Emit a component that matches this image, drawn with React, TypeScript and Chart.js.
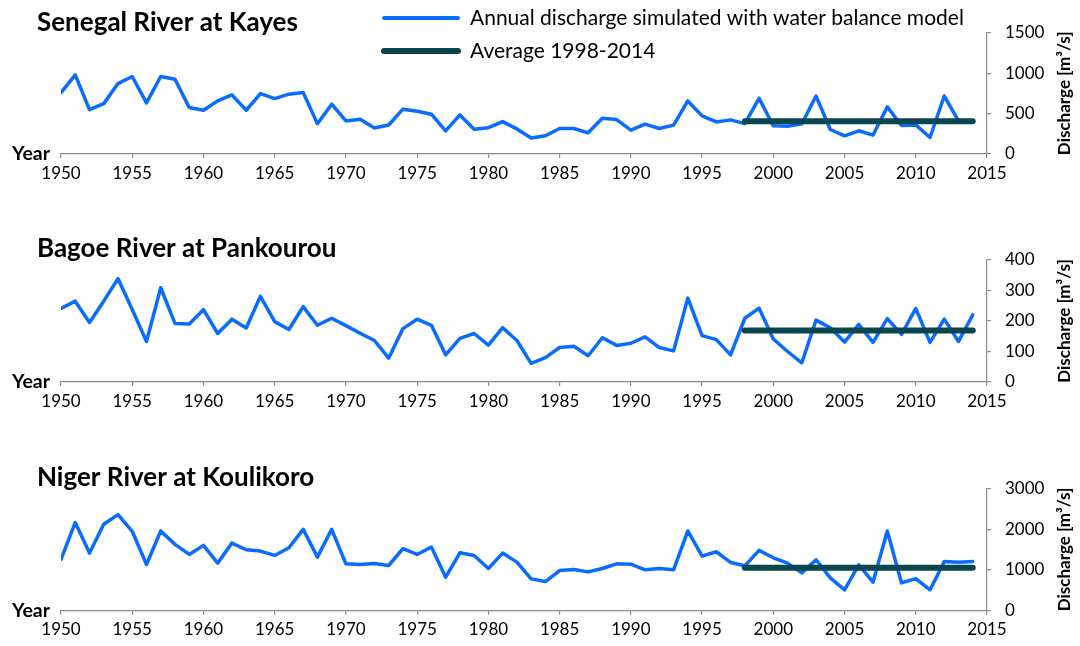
import { useEffect, useRef } from "react";
import { Chart, registerables } from "chart.js";

Chart.register(...registerables);

// ---------- data ----------
const years = [
  1950, 1951, 1952, 1953, 1954, 1955, 1956, 1957, 1958, 1959,
  1960, 1961, 1962, 1963, 1964, 1965, 1966, 1967, 1968, 1969,
  1970, 1971, 1972, 1973, 1974, 1975, 1976, 1977, 1978, 1979,
  1980, 1981, 1982, 1983, 1984, 1985, 1986, 1987, 1988, 1989,
  1990, 1991, 1992, 1993, 1994, 1995, 1996, 1997, 1998, 1999,
  2000, 2001, 2002, 2003, 2004, 2005, 2006, 2007, 2008, 2009,
  2010, 2011, 2012, 2013, 2014,
];

const senegalDischarge = [
  760, 979, 549, 623, 871, 958, 632, 958, 925, 574,
  541, 657, 731, 541, 747, 685, 740, 760, 375, 616,
  409, 430, 322, 359, 554, 529, 492, 285, 483, 306,
  326, 400, 310, 197, 225, 315, 315, 262, 443, 426,
  295, 369, 315, 357, 656, 471, 397, 422, 376, 689,
  348, 344, 373, 717, 303, 225, 287, 234, 582, 352,
  360, 204, 717, 410, 400,
];

const bagoeDischarge = [
  241, 265, 195, 265, 339, 238, 133, 309, 192, 190,
  237, 159, 206, 177, 281, 198, 172, 247, 186, 209,
  185, 160, 136, 78, 175, 206, 186, 89, 143, 159,
  121, 178, 136, 61, 80, 113, 117, 86, 145, 120,
  127, 148, 113, 102, 275, 152, 139, 89, 209, 242,
  141, 100, 63, 203, 178, 131, 189, 130, 208, 156,
  241, 130, 206, 133, 220,
];

const nigerDischarge = [
  1256, 2160, 1412, 2118, 2356, 1946, 1133, 1954, 1626, 1379,
  1601, 1166, 1658, 1494, 1461, 1355, 1544, 1995, 1313, 1995,
  1149, 1133, 1158, 1108, 1519, 1379, 1560, 821, 1420, 1355,
  1034, 1412, 1190, 780, 714, 985, 1010, 952, 1034, 1149,
  1141, 1002, 1034, 1002, 1954, 1338, 1445, 1182, 1100, 1478,
  1297, 1166, 928, 1248, 805, 509, 1125, 698, 1954, 681,
  788, 509, 1207, 1190, 1207,
];

const averagePeriod = [1998, 2014];
const senegalAverage = 405;
const bagoeAverage = 169;
const nigerAverage = 1050;

const xTicks = [1950, 1955, 1960, 1965, 1970, 1975, 1980, 1985, 1990, 1995, 2000, 2005, 2010, 2015];
const senegalYTicks = [0, 500, 1000, 1500];
const bagoeYTicks = [0, 100, 200, 300, 400];
const nigerYTicks = [0, 1000, 2000, 3000];

const seriesLabel = "Annual discharge simulated with water balance model";
const averageLabel = "Average 1998-2014";
const xTitle = "Year";
const yTitle = "Discharge [m³/s]";

// ---------- style ----------
const BLUE = "#0A6CFF";
const DARK = "#0A4650";
const AXIS = "#8C8C8C";
const FONT = "Lato, 'Open Sans', sans-serif";
const AREA_LEFT = 61;
const AREA_RIGHT = 987;
const W = 1080;

type PanelProps = {
  title: string;
  values: number[];
  avg: number;
  yTicks: number[];
  top: number;
  height: number;
  areaTop: number;
  areaBottom: number;
  titleBaseline: number;
  legend: boolean;
};

function Panel(p: PanelProps) {
  const ref = useRef<HTMLCanvasElement>(null);
  useEffect(() => {
    const canvas = ref.current!;
    const localTop = p.areaTop - p.top;
    const localBottom = p.areaBottom - p.top;
    const xAxisHeight = p.height - localBottom;

    const decor = {
      id: "decor",
      afterDraw(chart: any) {
        const c = chart.ctx as CanvasRenderingContext2D;
        const a = chart.chartArea;
        c.save();
        c.fillStyle = "#000";
        // panel title
        c.font = `bold 26px ${FONT}`;
        c.textAlign = "left";
        c.textBaseline = "alphabetic";
        c.fillText(p.title, 37, p.titleBaseline - p.top);
        // "Year"
        c.font = `bold 19.5px ${FONT}`;
        c.textAlign = "right";
        c.textBaseline = "middle";
        c.fillText(xTitle, 50, a.bottom);
        // y title
        c.save();
        c.translate(1065, (a.top + a.bottom) / 2);
        c.rotate(-Math.PI / 2);
        c.font = `bold 17px ${FONT}`;
        c.textAlign = "center";
        c.textBaseline = "middle";
        c.fillText(yTitle, 0, 0);
        c.restore();
        // legend
        if (p.legend) {
          const items = [
            { label: seriesLabel, color: BLUE, width: 4, y: 18 },
            { label: averageLabel, color: DARK, width: 6, y: 51 },
          ];
          items.forEach((it) => {
            const y = it.y - p.top;
            c.beginPath();
            c.strokeStyle = it.color;
            c.lineWidth = it.width;
            c.lineCap = "round";
            c.moveTo(384, y);
            c.lineTo(458, y);
            c.stroke();
            c.font = `21px ${FONT}`;
            c.textAlign = "left";
            c.textBaseline = "middle";
            c.fillStyle = "#000";
            c.fillText(it.label, 470, y);
          });
        }
        c.restore();
      },
    };

    const chart = new Chart(canvas, {
      type: "line",
      data: {
        datasets: [
          {
            label: seriesLabel,
            data: years.map((yr, i) => ({ x: yr, y: p.values[i] })),
            borderColor: BLUE,
            backgroundColor: BLUE,
            borderWidth: 3.5,
            pointRadius: 0,
            tension: 0,
            borderJoinStyle: "round",
            borderCapStyle: "round",
            order: 2,
          },
          {
            label: averageLabel,
            data: averagePeriod.map((yr) => ({ x: yr, y: p.avg })),
            borderColor: DARK,
            backgroundColor: DARK,
            borderWidth: 6,
            pointRadius: 0,
            borderCapStyle: "round",
            order: 1,
          },
        ],
      },
      options: {
        responsive: false,
        animation: false,
        devicePixelRatio: 1,
        events: [],
        layout: { padding: { left: AREA_LEFT, top: localTop, right: 0, bottom: 0 } },
        plugins: {
          legend: { display: false },
          title: { display: false },
          tooltip: { enabled: false },
        },
        scales: {
          x: {
            type: "linear",
            min: 1950,
            max: 2015,
            afterFit: (s: any) => {
              s.height = xAxisHeight;
            },
            afterBuildTicks: (s: any) => {
              s.ticks = xTicks.map((v) => ({ value: v }));
            },
            ticks: {
              callback: (v: any) => String(v),
              font: { family: FONT, size: 17 },
              color: "#000",
              padding: 5,
              maxRotation: 0,
              autoSkip: false,
            },
            grid: { drawOnChartArea: false, drawTicks: true, tickLength: 4, color: AXIS, lineWidth: 1.2 },
            border: { display: true, color: AXIS, width: 1.2 },
          },
          y: {
            type: "linear",
            position: "right",
            min: 0,
            max: p.yTicks[p.yTicks.length - 1],
            afterFit: (s: any) => {
              s.width = W - AREA_RIGHT;
            },
            afterBuildTicks: (s: any) => {
              s.ticks = p.yTicks.map((v) => ({ value: v }));
            },
            ticks: {
              callback: (v: any) => String(v),
              font: { family: FONT, size: 17 },
              color: "#000",
              padding: 14,
            },
            grid: { drawOnChartArea: false, drawTicks: true, tickLength: 4, color: AXIS, lineWidth: 1.2 },
            border: { display: true, color: AXIS, width: 1.2 },
          },
        },
      } as any,
      plugins: [decor],
    });
    return () => chart.destroy();
  }, []);
  return (
    <canvas
      ref={ref}
      width={W}
      height={p.height}
      style={{ position: "absolute", left: 0, top: p.top, width: W, height: p.height, display: "block" }}
    />
  );
}

export default function App() {
  return (
    <div style={{ position: "absolute", left: 0, top: 0, width: W, height: 646, background: "#fff" }}>
      <Panel
        title="Senegal River at Kayes"
        values={senegalDischarge}
        avg={senegalAverage}
        yTicks={senegalYTicks}
        top={0}
        height={215}
        areaTop={32.7}
        areaBottom={154}
        titleBaseline={31}
        legend={true}
      />
      <Panel
        title="Bagoe River at Pankourou"
        values={bagoeDischarge}
        avg={bagoeAverage}
        yTicks={bagoeYTicks}
        top={215}
        height={215}
        areaTop={260}
        areaBottom={382}
        titleBaseline={257}
        legend={false}
      />
      <Panel
        title="Niger River at Koulikoro"
        values={nigerDischarge}
        avg={nigerAverage}
        yTicks={nigerYTicks}
        top={430}
        height={216}
        areaTop={488.3}
        areaBottom={610.7}
        titleBaseline={486}
        legend={false}
      />
    </div>
  );
}
